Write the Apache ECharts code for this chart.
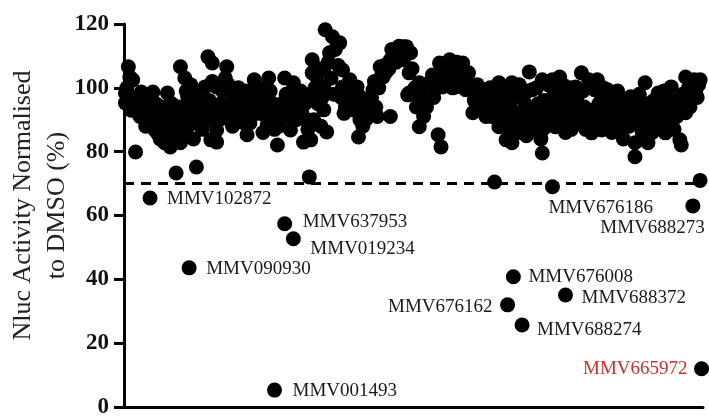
<!DOCTYPE html>
<html>
<head>
<meta charset="utf-8">
<script src="https://cdn.jsdelivr.net/npm/echarts@6/dist/echarts.min.js"></script>
<style>
  html, body { margin: 0; padding: 0; background: #fff; }
  #chart { width: 709px; height: 416px; }
</style>
</head>
<body>
<div id="chart"></div>
<script>
// Compound screen: position in plate order and Nluc activity (% of DMSO)
const compoundIndex = [
  1,1,3,4,6,6,8,10,12,13,16,17,19,20,21,23,23,25,26,26,28,30,30,32,33,34,36,36,38,39,39,42,42,44,44,47,48,49,50,51,53,54,56,57,58,58,60,61,
  2,5,9,11,14,15,18,22,24,27,29,31,35,37,40,41,43,45,46,52,55,59,61,62,63,
  64,64,64,67,70,71,73,74,77,79,81,83,85,85,88,90,92,94,95,96,99,99,100,103,104,106,106,109,111,113,113,115,117,118,120,122,124,126,128,
  66,68,69,72,75,76,78,80,82,84,86,87,89,91,93,97,98,101,102,105,107,112,114,116,119,121,123,125,127,
  129,130,130,130,131,133,134,136,138,138,138,139,140,142,144,145,149,151,151,153,156,157,161,162,163,163,166,168,170,172,174,175,176,177,179,181,184,184,187,189,193,193,196,
  132,135,137,141,143,146,148,150,152,154,158,159,164,165,167,169,171,173,178,180,183,185,188,190,192,194,
  195,197,197,198,204,204,204,209,211,214,216,217,218,219,220,222,225,228,229,231,234,236,238,241,243,245,248,250,250,252,255,256,257,259,259,260,262,264,
  199,201,202,206,207,213,215,221,224,226,227,230,232,235,237,240,242,244,246,247,249,251,253,254,258,261,
  263,263,266,266,268,268,270,272,275,275,278,280,280,282,282,284,286,289,289,289,291,294,296,298,298,301,301,304,305,307,307,310,312,314,316,318,320,321,323,325,325,
  264,265,267,269,271,273,274,276,277,279,281,283,285,287,288,290,292,293,295,297,299,300,302,303,306,308,309,311,313,315,317,319,322,324,326,
  327,330,330,334,336,339,340,343,343,346,348,350,352,353,353,355,357,358,360,361,362,364,366,367,369,371,374,374,377,378,381,383,384,385,386,388,388,390,392,394,395,398,398,
  328,329,331,332,333,335,337,338,341,342,344,345,347,349,351,354,356,359,363,365,368,370,372,373,375,376,379,380,382,387,389,391,393,396,397
];
const activity = [
  98.4,95.3,106.6,103.4,102.5,97,79.9,94,98.7,92.2,96,89,93.1,98.7,87,90,85.9,84,94,87,82.8,98.4,91,81.5,95,86,91,73.3,94,82.8,106.6,103.1,90,97.2,87.8,95,84,89,75.2,98.4,93.1,87,100.3,95,109.7,90,83.7,107.8,
  100,93,97,91,95,88,92,95,91,89,94,87,83,88,93,86,99,92,101,96,91,96,102,93,89,
  100.3,86.8,83,95,103.1,106.6,90,95.3,92,100,97.2,89,94,85.3,91,102.5,96.2,92,99,86,94,88.4,103.1,95,87,91,82.1,95,103.1,95.3,91,86.8,101.6,97,93.1,99,83,90,72.1,
  90,99,92,101,88,98,95,91,94,99,96,89,97,93,100,96,91,99,93,94,88,98,93,99,90,96,92,95,87,
  83.7,108.8,104.7,98.4,90,103.4,95,88,105.6,100.3,93.1,118.2,86.2,111,116,98,114.1,105.6,100.3,94,102.5,96,100.3,84.6,97.2,90,95,92.2,96,99.4,94,91,100,106.6,103.4,105,108.8,91,110,111.9,112.9,108.8,97.8,
  100,106,97,108,103,112,107,97,92,100,99,93,94,88,90,93,97,102,104,107,106,112,108,113,110,111,
  112.9,104.7,98.4,111,101.6,96.2,87.8,94,101.6,97,103.4,85.3,107.8,81.5,100.3,104,108.8,105,100.3,103,107.8,99.4,104.7,92.2,98.4,97,95.3,99.4,91,97,93.1,70.5,99,101.6,87.8,92,96.2,83.7,
  106,100,94,98,91,104,100,106,102,107,100,108,106,103,101,100,96,101,93,99,97,94,100,91,95,99,
  100.3,93.1,90,86.8,101.6,82.8,97.2,88,92.2,97.2,85,105,94,99.4,90,89,95,102.5,86.8,79.6,92.2,96.2,102.5,87.8,94,103.4,92.2,99,86,97.2,91,95,100.3,89,104.7,94,91,102.5,85.9,99.4,89,
  97,88,94,99,92,101,86,90,95,99,87,93,100,90,84,96,88,101,91,99,90,96,88,101,94,100,87,92,97,90,99,87,93,92,92,
  102.5,97.2,86.8,99.4,91,96.2,88,86.8,93.1,90,94,97.2,89,82.8,78.4,95.3,90,86,101.6,95,82.8,92.2,96,87.8,98.4,91,85.9,93.1,89,100.3,93.1,96,83.7,82.1,98,103.4,92.2,100,97.2,102.5,99,102.5,71,
  95,90,100,93,88,96,86,93,99,90,96,84,92,88,93,91,98,93,89,86,93,96,88,99,95,91,96,87,91,95,98,94,100,97,101
];

// Named compounds (hits and borderline compounds)
const hitIds = ['MMV102872','MMV637953','MMV019234','MMV090930','MMV001493','MMV676008',
                'MMV676162','MMV688372','MMV688274','MMV665972','MMV676186','MMV688273'];
const hitIndex = [18,111,117,45,104,269,265,305,275,399,296,393];
const hitActivity = [65.5,57.4,52.7,43.6,5.3,40.8,32,35.1,25.7,12,69,63];

const threshold = 70;

const DOT = 15;
const SERIF = '"Liberation Serif", "Times New Roman", serif';

// Where each compound name sits relative to its dot centre
const labelPlacement = {
  MMV102872: { align: 'left',  dx: 17,  dy: 1 },
  MMV637953: { align: 'left',  dx: 18,  dy: -2 },
  MMV019234: { align: 'left',  dx: 17,  dy: 10 },
  MMV090930: { align: 'left',  dx: 17,  dy: 1 },
  MMV001493: { align: 'left',  dx: 18,  dy: 1 },
  MMV676008: { align: 'left',  dx: 15,  dy: 0 },
  MMV676162: { align: 'right', dx: -15, dy: 2 },
  MMV688372: { align: 'left',  dx: 16,  dy: 3 },
  MMV688274: { align: 'left',  dx: 15,  dy: 5 },
  MMV665972: { align: 'right', dx: -14, dy: 0, color: '#d42b2b' },
  MMV676186: { align: 'left',  dx: -4,  dy: 21 },
  MMV688273: { align: 'right', dx: 12,  dy: 22 }
};

const screenData = compoundIndex.map((x, i) => [x, activity[i]]);
const hitData = hitIds.map((id, i) => {
  const p = labelPlacement[id];
  return {
    name: id,
    value: [hitIndex[i], hitActivity[i]],
    label: {
      show: true,
      position: [DOT / 2 + p.dx, DOT / 2 + p.dy],
      align: p.align,
      verticalAlign: 'middle',
      color: p.color || '#1a1a1a'
    }
  };
});

const chart = echarts.init(document.getElementById('chart'), null, { renderer: 'canvas' });
chart.setOption({
  animation: false,
  backgroundColor: '#fff',
  grid: {
    left: 124, right: 6, top: 24, bottom: 9,
    containLabel: false,
    outerBoundsMode: 'none'
  },
  xAxis: {
    type: 'value',
    min: 0,
    max: 400,
    axisLine: { show: true, onZero: false, lineStyle: { color: '#000', width: 3 } },
    axisTick: { show: false },
    axisLabel: { show: false },
    splitLine: { show: false }
  },
  yAxis: {
    type: 'value',
    min: 0,
    max: 120,
    interval: 20,
    name: 'Nluc Activity Normalised\nto DMSO (%)',
    nameLocation: 'middle',
    nameGap: 50,
    nameMoveOverlap: false,
    nameTextStyle: {
      fontFamily: SERIF,
      fontSize: 26,
      lineHeight: 34,
      color: '#222',
      padding: [0, 0, 0, 20]
    },
    axisLine: { show: true, lineStyle: { color: '#000', width: 3 } },
    axisTick: { show: true, length: 10, lineStyle: { color: '#000', width: 3 } },
    axisLabel: {
      margin: 15,
      fontFamily: SERIF,
      fontWeight: 'bold',
      fontSize: 23,
      color: '#111'
    },
    splitLine: { show: false }
  },
  series: [
    {
      name: 'screen',
      type: 'scatter',
      symbol: 'circle',
      symbolSize: DOT,
      itemStyle: { color: '#000', opacity: 1 },
      data: screenData,
      markLine: {
        silent: true,
        symbol: 'none',
        label: { show: false },
        lineStyle: { color: '#000', width: 3, type: [10, 7], opacity: 1 },
        data: [{ yAxis: threshold }]
      }
    },
    {
      name: 'hits',
      type: 'scatter',
      symbol: 'circle',
      symbolSize: DOT,
      itemStyle: { color: '#000', opacity: 1 },
      label: {
        show: true,
        formatter: '{b}',
        fontFamily: SERIF,
        fontSize: 19
      },
      labelLayout: { hideOverlap: false },
      data: hitData
    }
  ]
});
</script>
</body>
</html>
